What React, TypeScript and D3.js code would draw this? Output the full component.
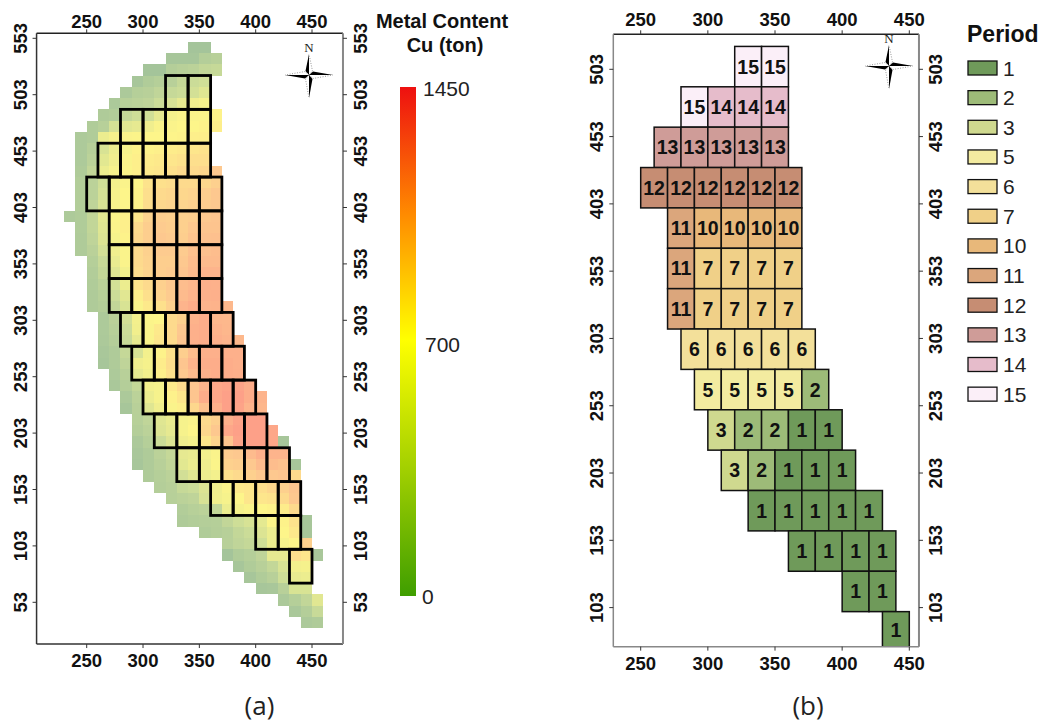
import React from "react"
import * as d3 from "d3"

// model cells, one row per 10 units of northing, top row first
const cellTopRow = 550
const cellRowStarts = [340, 320, 300, 290, 280, 270, 260, 250, 240, 240, 240, 240, 240, 240, 240, 230, 240, 240, 240, 250, 250, 250, 250, 250, 260, 260,
    260, 260, 260, 270, 270, 280, 280, 290, 290, 290, 290, 290, 300, 310, 320, 330, 330, 350, 370, 370, 380, 390, 400, 420, 430, 440]
const cellRowValues = [
    [150, 150],
    [170, 170, 170, 250, 280],
    [150, 150, 250, 280, 300, 350, 370],
    [170, 230, 260, 280, 360, 400, 430],
    [200, 260, 280, 330, 370, 400, 450, 520],
    [200, 280, 300, 320, 400, 470, 560, 620, 650],
    [220, 240, 360, 420, 430, 560, 650, 680, 680, 690, 720],
    [230, 270, 460, 530, 560, 620, 680, 680, 700, 700, 720, 750],
    [210, 230, 600, 650, 680, 690, 700, 700, 710, 720, 740, 750],
    [210, 270, 480, 600, 660, 720, 720, 740, 760, 780, 800, 820],
    [210, 300, 540, 620, 680, 740, 760, 780, 800, 830, 850, 850],
    [220, 340, 600, 660, 690, 740, 780, 800, 840, 880, 880, 900, 1000],
    [240, 300, 420, 640, 680, 700, 820, 840, 860, 880, 880, 900, 950],
    [240, 300, 450, 650, 700, 720, 850, 880, 900, 900, 920, 960, 1000],
    [240, 320, 480, 660, 700, 730, 860, 900, 920, 920, 950, 980, 1000],
    [210, 230, 340, 540, 690, 740, 800, 930, 960, 950, 950, 960, 1000, 1020],
    [230, 340, 520, 680, 740, 880, 960, 980, 960, 950, 1000, 1030, 1030],
    [220, 320, 500, 660, 720, 900, 960, 1000, 980, 960, 1030, 1050, 1060],
    [220, 290, 450, 620, 680, 880, 940, 980, 980, 980, 1050, 1060, 1080],
    [260, 380, 580, 680, 880, 930, 960, 960, 1000, 1080, 1100, 1100],
    [240, 350, 520, 640, 860, 920, 960, 980, 1020, 1100, 1150, 1150],
    [230, 300, 450, 600, 820, 880, 950, 1000, 1080, 1120, 1180, 1170],
    [220, 270, 400, 530, 740, 840, 920, 980, 1100, 1150, 1170, 1180],
    [220, 250, 340, 480, 680, 780, 840, 940, 1150, 1200, 1150, 1160, 1120],
    [210, 290, 440, 640, 690, 700, 880, 940, 1160, 1200, 1130, 1120],
    [210, 270, 400, 630, 680, 780, 880, 1000, 1180, 1200, 1160, 1130],
    [200, 250, 380, 570, 680, 800, 880, 1020, 1180, 1200, 1180, 1150, 1120],
    [180, 220, 360, 470, 640, 720, 840, 960, 1080, 1180, 1180, 1180, 1180],
    [170, 220, 320, 620, 650, 760, 860, 1020, 1150, 1200, 1200, 1200, 1180],
    [210, 280, 560, 630, 740, 840, 1000, 1100, 1180, 1200, 1200, 1190],
    [190, 250, 350, 640, 660, 780, 880, 1020, 1150, 1250, 1280, 1280, 1200],
    [200, 300, 600, 660, 730, 800, 1020, 1200, 1250, 1300, 1300, 1200, 1150],
    [170, 280, 520, 620, 680, 740, 900, 1050, 1180, 1300, 1280, 1150, 1130],
    [270, 330, 520, 580, 660, 680, 880, 950, 1180, 1280, 1320, 1320],
    [250, 300, 500, 560, 660, 700, 900, 1000, 1250, 1300, 1330, 1330, 1250],
    [200, 260, 400, 500, 620, 650, 800, 920, 1020, 1280, 1300, 1330, 1250, 170],
    [180, 220, 300, 360, 560, 580, 640, 680, 980, 1000, 1100, 1180, 1150, 1150],
    [170, 220, 280, 340, 540, 600, 620, 690, 940, 960, 1000, 1100, 1080, 1050, 170],
    [220, 260, 300, 440, 520, 600, 640, 840, 880, 950, 1000, 1000, 1020, 880],
    [250, 280, 370, 400, 500, 620, 680, 780, 800, 850, 900, 950, 1020],
    [270, 300, 320, 470, 630, 660, 700, 800, 800, 820, 880, 1000],
    [240, 270, 300, 340, 600, 650, 680, 700, 720, 760, 880],
    [220, 240, 250, 260, 340, 420, 470, 550, 690, 720, 820, 170],
    [230, 250, 270, 350, 400, 500, 600, 700, 780, 170],
    [280, 330, 360, 430, 600, 660, 700, 950],
    [150, 230, 260, 320, 560, 560, 850, 800, 180],
    [170, 230, 280, 350, 480, 640, 650],
    [170, 230, 280, 420, 580, 600],
    [170, 180, 280, 480, 480],
    [200, 260, 340, 530],
    [190, 250, 380],
    [200, 220],
]

// mining blocks, 20 x 30 units
const blockRowTops = [520, 490, 460, 430, 400, 370, 340, 310, 280, 250, 220, 190, 160, 130, 100]
const blockRowStarts = [320, 280, 260, 250, 270, 270, 270, 280, 290, 300, 310, 330, 360, 400, 430]
const blockRowPeriods = [
    [15, 15],
    [15, 14, 14, 14],
    [13, 13, 13, 13, 13],
    [12, 12, 12, 12, 12, 12],
    [11, 10, 10, 10, 10],
    [11, 7, 7, 7, 7],
    [11, 7, 7, 7, 7],
    [6, 6, 6, 6, 6],
    [5, 5, 5, 5, 2],
    [3, 2, 2, 1, 1],
    [3, 2, 1, 1, 1],
    [1, 1, 1, 1, 1],
    [1, 1, 1, 1],
    [1, 1],
    [1],
]

const periods = [1, 2, 3, 5, 6, 7, 10, 11, 12, 13, 14, 15]
const periodColors = ["#6f9a5a", "#9dbb78", "#cfd98f", "#f3eba0", "#f3e09a", "#f0d088", "#e8b87a", "#dba67c", "#c68d73", "#cf9c98", "#e6bccb", "#fbeff8"]

const xTicks = [250, 300, 350, 400, 450]
const yTicksA = [553, 503, 453, 403, 353, 303, 253, 203, 153, 103, 53]
const yTicksB = [503, 453, 403, 353, 303, 253, 203, 153, 103]

const colorbarStops = [0, 365, 730, 1090, 1450]
const colorbarColors = ["#3f9e00", "#a3d000", "#ffff00", "#ff8a00", "#ee1010"]
const colorbarLabels = [1450, 700, 0]
const colorbarLabelX = [423, 425, 422]
const colorbarLabelY = [96, 352, 604]

// the map layer is drawn half transparent, so it gets its own paler ramp
const cellStops = [150, 400, 700, 1000, 1300]
const cellColors = ["#a4c49a", "#cbdc98", "#fdf58a", "#fdc88f", "#fda088"]

const font = "'Liberation Sans', Arial, sans-serif"

const colorOf = d3.scaleOrdinal<number, string>().domain(periods).range(periodColors)
const cellColor = d3.scaleLinear<string>().domain(cellStops).range(cellColors).clamp(true)
const barY = d3.scaleLinear().domain([0, 1450]).range([596, 87])

const Compass = ({cx, cy}: {cx: number, cy: number}) => (
    <g transform={`translate(${cx},${cy})`}>
        <text x={0} y={-23} textAnchor="middle" fontSize={13} fontFamily="'Liberation Serif', serif" fill="#222">N</text>
        {[[0, 21], [90, 24], [180, 23], [270, 24]].map(([a, r]) => (
            <g key={a} transform={`rotate(${a})`}>
                <path d={`M0,0L-3.5,-4L0,${-r}Z`} fill="#000" />
                <path d={`M0,0L3.5,-4L0,${-r}`} fill="#fff" stroke="#555" strokeWidth={0.6} strokeDasharray="1 1.5" />
            </g>
        ))}
    </g>
)

const MapFrame = ({x, y, yTicks, leftLabelX, rightLabelX, topLabelY, bottomLabelY, leftStroke, rightStroke, bottomStroke}: any) => {
    const [x0, x1] = x.range()
    const [y1, y0] = y.range()
    return (
        <g fontFamily={font} fontWeight="bold" fontSize={18.5} fill="#111">
            <line x1={x0} x2={x1} y1={y0} y2={y0} stroke="#222" strokeWidth={1.5} />
            <line x1={x0} x2={x1} y1={y1} y2={y1} stroke={bottomStroke} strokeWidth={1.5} />
            <line x1={x0} x2={x0} y1={y0} y2={y1} stroke={leftStroke} strokeWidth={1.5} />
            <line x1={x1} x2={x1} y1={y0} y2={y1} stroke={rightStroke} strokeWidth={2} />
            {xTicks.map(t => (
                <g key={t}>
                    <line x1={x(t)} x2={x(t)} y1={y0} y2={y0 - 4} stroke="#333" />
                    <line x1={x(t)} x2={x(t)} y1={y1} y2={y1 + 4} stroke="#333" />
                    <text x={x(t)} y={topLabelY} textAnchor="middle">{t}</text>
                    <text x={x(t)} y={bottomLabelY} textAnchor="middle">{t}</text>
                </g>
            ))}
            {yTicks.map((t: number) => (
                <g key={t}>
                    <line x1={x0} x2={x0 - 4} y1={y(t)} y2={y(t)} stroke="#333" />
                    <line x1={x1} x2={x1 + 4} y1={y(t)} y2={y(t)} stroke="#333" />
                    <text transform={`translate(${leftLabelX},${y(t)}) rotate(-90)`} textAnchor="middle">{t}</text>
                    <text transform={`translate(${rightLabelX},${y(t)}) rotate(-90)`} textAnchor="middle">{t}</text>
                </g>
            ))}
        </g>
    )
}

const App = () => {
    // panel (a)
    const xA = d3.scaleLinear().domain([250, 450]).range([86.7, 312])
    const yA = d3.scaleLinear().domain([503, 53]).range([94.7, 602.3])
    const frameA = {
        x: xA.copy().domain([205.5, 477.5]).range([xA(205.5), xA(477.5)]),
        y: yA.copy().domain([16, 557.4]).range([yA(16), yA(557.4)]),
    }

    // panel (b)
    const xB = d3.scaleLinear().domain([250, 450]).range([640.7, 909.3])
    const yB = d3.scaleLinear().domain([503, 103]).range([69.3, 607.6])
    const frameB = {
        x: xB.copy().domain([229.6, 457.2]).range([xB(229.6), xB(457.2)]),
        y: yB.copy().domain([74, 529]).range([yB(74), yB(529)]),
    }

    const cells = cellRowValues.flatMap((row, i) =>
        row.map((v, j) => ({x: cellRowStarts[i] + j * 10, top: cellTopRow - i * 10, v})))
    const blocks = blockRowPeriods.flatMap((row, i) =>
        row.map((p, j) => ({x: blockRowStarts[i] + j * 20, top: blockRowTops[i], p})))

    return (
        <svg width={1042} height={722} style={{position: "absolute", left: 0, top: 0, background: "#fff"}}>
            <defs>
                <linearGradient id="bar" x1="0" x2="0" y1="1" y2="0">
                    {colorbarStops.map((s, i) => (
                        <stop key={s} offset={s / 1450} stopColor={colorbarColors[i]} />
                    ))}
                </linearGradient>
                <clipPath id="clipB">
                    <rect x={frameB.x.range()[0]} y={frameB.y.range()[1]}
                        width={frameB.x.range()[1] - frameB.x.range()[0]}
                        height={frameB.y.range()[0] - frameB.y.range()[1]} />
                </clipPath>
            </defs>

            {/* (a) metal content */}
            <g shapeRendering="crispEdges">
                {cells.map(c => (
                    <rect key={`${c.x}-${c.top}`} x={xA(c.x)} y={yA(c.top)}
                        width={xA(c.x + 10) - xA(c.x)} height={yA(c.top - 10) - yA(c.top)} fill={cellColor(c.v)} />
                ))}
            </g>
            <g fill="none" stroke="#000" strokeWidth={2.8}>
                {blocks.map(b => (
                    <rect key={`${b.x}-${b.top}`} x={xA(b.x)} y={yA(b.top)}
                        width={xA(b.x + 20) - xA(b.x)} height={yA(b.top - 30) - yA(b.top)} />
                ))}
            </g>
            <MapFrame {...frameA} yTicks={yTicksA} leftLabelX={27} rightLabelX={367} topLabelY={28} bottomLabelY={667}
                leftStroke="#333" rightStroke="#888" bottomStroke="#333" />
            <Compass cx={309} cy={75} />

            <rect x={400} y={barY(1450)} width={16} height={barY(0) - barY(1450)} fill="url(#bar)" />
            <g fontFamily={font} fontSize={21} fill="#222">
                {colorbarLabels.map((l, i) => (
                    <text key={l} x={colorbarLabelX[i]} y={colorbarLabelY[i]}>{l}</text>
                ))}
            </g>
            <g fontFamily={font} fontWeight="bold" fontSize={20} fill="#111" textAnchor="middle">
                <text x={442} y={28}>Metal Content</text>
                <text x={445} y={52}>Cu (ton)</text>
            </g>
            <text x={259.5} y={715} textAnchor="middle" fontFamily="'Open Sans', sans-serif" fontSize={26} fill="#222">(a)</text>

            {/* (b) mining periods */}
            <g clipPath="url(#clipB)">
                {blocks.map(b => (
                    <rect key={`${b.x}-${b.top}`} x={xB(b.x)} y={yB(b.top)}
                        width={xB(b.x + 20) - xB(b.x)} height={yB(b.top - 30) - yB(b.top)}
                        fill={colorOf(b.p)} stroke="#111" strokeWidth={1.5} />
                ))}
            </g>
            <g fontFamily={font} fontWeight="bold" fontSize={19.5} fill="#111" textAnchor="middle">
                {blocks.map(b => (
                    <text key={`${b.x}-${b.top}`} x={xB(b.x + 10)} y={yB(b.top - 15) + 7 - (b.top === 100 ? 2 : 0)}>{b.p}</text>
                ))}
            </g>
            <MapFrame {...frameB} yTicks={yTicksB} leftLabelX={603} rightLabelX={942} topLabelY={26} bottomLabelY={670}
                leftStroke="#888" rightStroke="#888" bottomStroke="#888" />
            <Compass cx={889} cy={66} />

            <text x={967} y={42} fontFamily={font} fontWeight="bold" fontSize={23} fill="#111">Period</text>
            {periods.map((p, i) => (
                <g key={p} transform={`translate(968,${61 + i * 29.65})`}>
                    <rect width={29} height={14} fill={colorOf(p)} stroke="#111" strokeWidth={1.3} />
                    <text x={35} y={14.5} fontFamily={font} fontSize={21} fill="#222">{p}</text>
                </g>
            ))}
            <text x={808} y={715} textAnchor="middle" fontFamily="'Open Sans', sans-serif" fontSize={26} fill="#222">(b)</text>
        </svg>
    )
}

export default App
